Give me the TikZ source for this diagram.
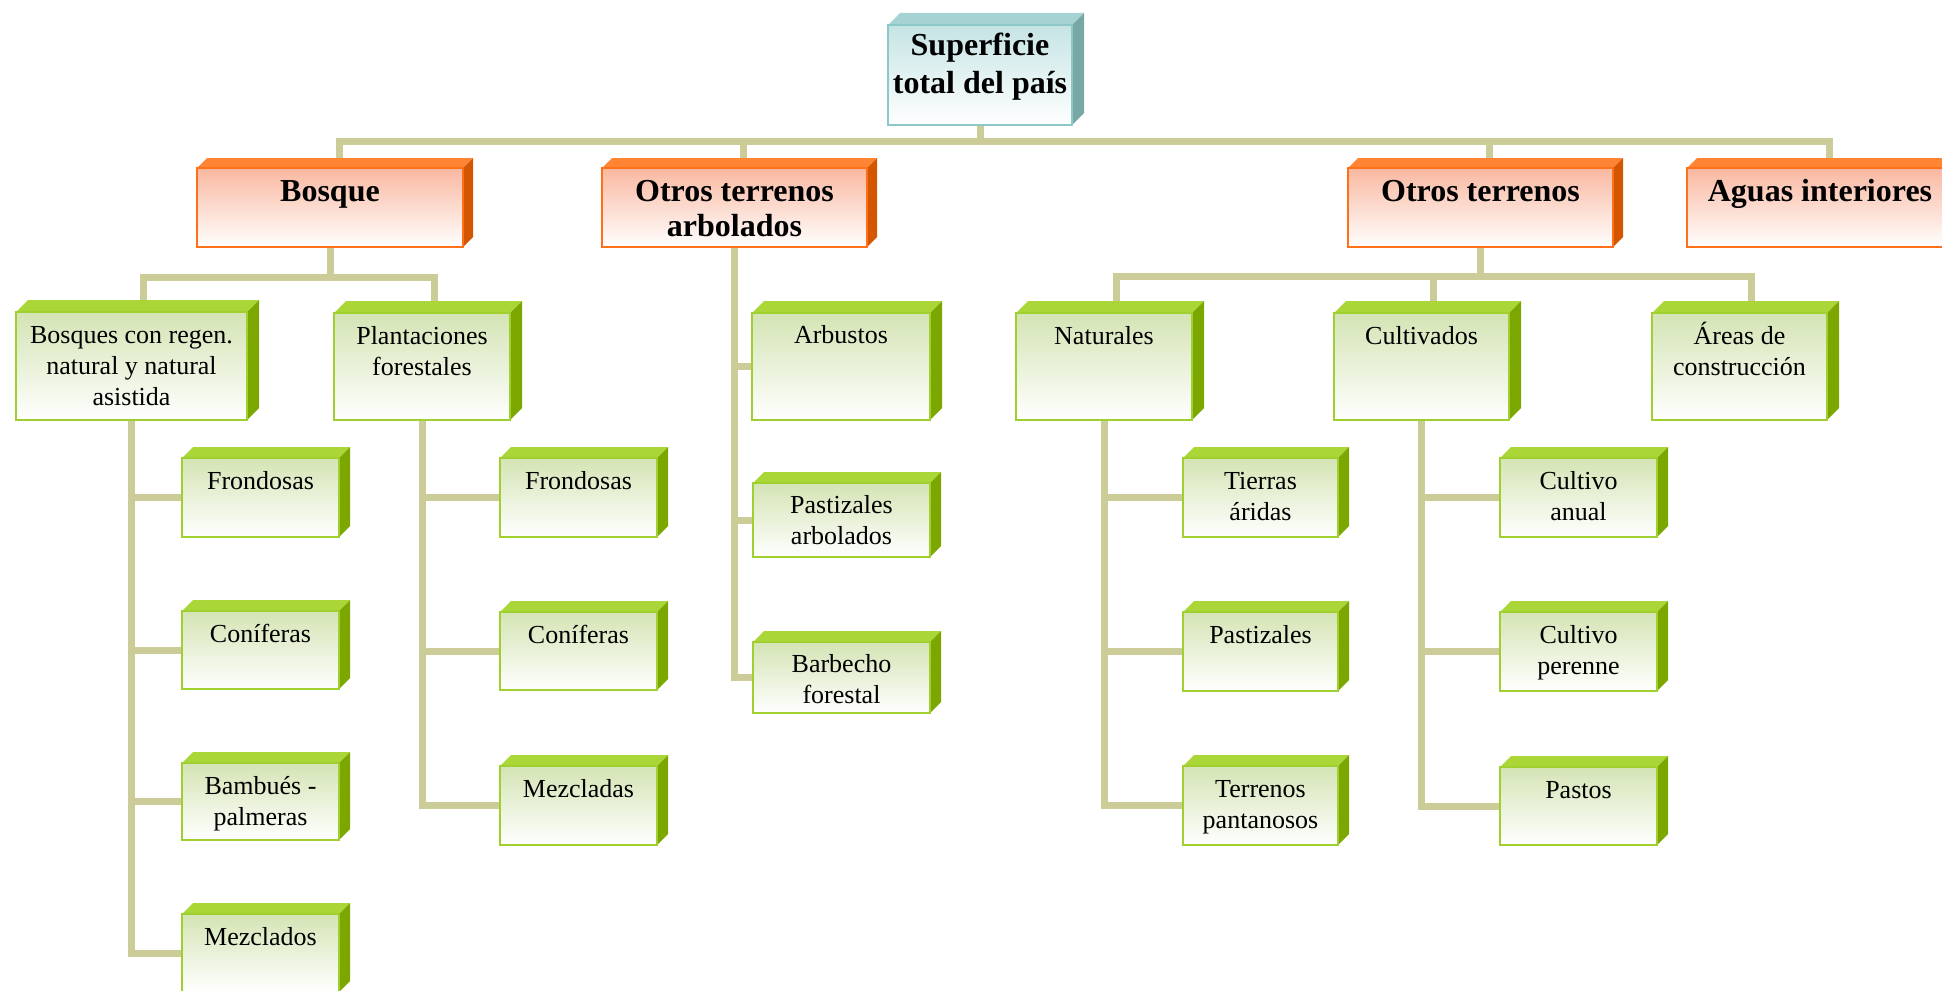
\documentclass[tikz,border=0pt]{standalone}
\usepackage{fontspec}
\setmainfont{Liberation Serif}
\pgfdeclarelayer{conn}
\pgfdeclarelayer{faces}
\pgfsetlayers{conn,faces,main}
\definecolor{conncol}{RGB}{204,204,153}
\definecolor{oedge}{RGB}{255,112,24}
\definecolor{otop}{RGB}{255,132,52}
\definecolor{oside}{RGB}{212,86,0}
\definecolor{ofront}{RGB}{249,184,160}
\definecolor{gedge}{RGB}{160,208,48}
\definecolor{gtop}{RGB}{170,214,56}
\definecolor{gside}{RGB}{124,166,0}
\definecolor{gfront}{RGB}{212,228,180}
\definecolor{tedge}{RGB}{140,200,200}
\definecolor{ttop}{RGB}{165,210,210}
\definecolor{tside}{RGB}{120,168,166}
\definecolor{tfront}{RGB}{198,228,228}
\newcommand\tlines[1]{\begin{tabular}[t]{@{}c@{}}#1\end{tabular}}
% #1 style, #2 depth, #3 name, #4 x1, #5 y1, #6 x2, #7 y2, #8 text, #9 first baseline offset
\newcommand\cbx[9]{%
  \pgfmathsetmacro\cbW{(#6-#4)*0.5}%
  \pgfmathsetmacro\cbH{#9*0.5}%
  \pgfmathsetmacro\cbD{(#7-#5-#9)*0.5}%
  \node[#1, minimum width=\cbW pt, text height=\cbH pt, text depth=\cbD pt, anchor=north west] (#3) at (#4,#5) {\tlines{#8}};
  \begin{pgfonlayer}{faces}
    \fill[#1top] (#3.north west) -- ++(#2,-#2) -- ([shift={(#2,-#2)}]#3.north east) -- (#3.north east) -- cycle;
    \fill[#1side] (#3.north east) -- ++(#2,-#2) -- ([shift={(#2,-#2)}]#3.south east) -- (#3.south east) -- cycle;
  \end{pgfonlayer}
}
\begin{document}
\begin{tikzpicture}[x=0.5pt,y=-0.5pt,
  boxbase/.style={inner sep=0pt, outer sep=0pt, line width=0.9pt, bottom color=white},
  tbox/.style={boxbase, draw=tedge, top color=tfront, font=\fontsize{16}{19}\selectfont\bfseries},
  tboxtop/.style={fill=ttop},
  tboxside/.style={fill=tside},
  obox/.style={boxbase, draw=oedge, top color=ofront, font=\fontsize{16}{17.5}\selectfont\bfseries},
  oboxtop/.style={fill=otop},
  oboxside/.style={fill=oside},
  gbox/.style={boxbase, draw=gedge, top color=gfront, font=\fontsize{13}{15.5}\selectfont},
  gboxtop/.style={fill=gtop},
  gboxside/.style={fill=gside},
  conn/.style={draw=conncol, line width=3.5pt, line join=miter}
]
\useasboundingbox (0,0) rectangle (1942,990);

% root and level 1
\cbx{tbox}{12}{root}{888}{25}{1072}{125}{Superficie\\total del país}{31}
\cbx{obox}{10}{bosque}{197}{168}{463}{247}{Bosque}{33}
\cbx{obox}{10}{ota}{602}{168}{867}{247}{Otros terrenos\\arbolados}{33}
\cbx{obox}{10}{ot}{1348}{168}{1613}{247}{Otros terrenos}{33}
\cbx{obox}{10}{aguas}{1687}{168}{1953}{247}{Aguas interiores}{33}

% level 2
\cbx{gbox}{12}{bcr}{16}{312}{247}{420}{Bosques con regen.\\natural y natural\\asistida}{31}
\cbx{gbox}{12}{pf}{334}{313}{510}{420}{Plantaciones\\forestales}{31}
\cbx{gbox}{12}{arb}{752}{313}{930}{420}{Arbustos}{30}
\cbx{gbox}{12}{nat}{1016}{313}{1192}{420}{Naturales}{31}
\cbx{gbox}{12}{cul}{1334}{313}{1509}{420}{Cultivados}{31}
\cbx{gbox}{12}{are}{1652}{313}{1827}{420}{Áreas de\\construcción}{31}

% level 3
\cbx{gbox}{11}{b1}{182}{458}{339}{537}{Frondosas}{31}
\cbx{gbox}{11}{b2}{182}{611}{339}{689}{Coníferas}{31}
\cbx{gbox}{11}{b3}{182}{763}{339}{840}{Bambués -\\palmeras}{31}
\cbx{gbox}{11}{b4}{182}{914}{339}{992}{Mezclados}{31}

\cbx{gbox}{11}{p1}{500}{458}{657}{537}{Frondosas}{31}
\cbx{gbox}{11}{p2}{500}{612}{657}{690}{Coníferas}{31}
\cbx{gbox}{11}{p3}{500}{766}{657}{845}{Mezcladas}{31}

\cbx{gbox}{11}{a2}{753}{483}{930}{557}{Pastizales\\arbolados}{30}
\cbx{gbox}{11}{a3}{753}{642}{930}{713}{Barbecho\\forestal}{30}

\cbx{gbox}{11}{n1}{1183}{458}{1338}{537}{Tierras\\áridas}{31}
\cbx{gbox}{11}{n2}{1183}{612}{1338}{691}{Pastizales}{31}
\cbx{gbox}{11}{n3}{1183}{766}{1338}{845}{Terrenos\\pantanosos}{31}

\cbx{gbox}{11}{c1}{1500}{458}{1657}{537}{Cultivo\\anual}{31}
\cbx{gbox}{11}{c2}{1500}{612}{1657}{691}{Cultivo\\perenne}{31}
\cbx{gbox}{11}{c3}{1500}{767}{1657}{845}{Pastos}{31}

% connectors
\begin{pgfonlayer}{conn}
  \foreach \c in {bosque,ota,ot,aguas}
    \draw[conn] (root.south) -- ++(0,16) -| ([xshift=4.5pt]\c.north);
  \foreach \c in {bcr,pf}
    \draw[conn] (bosque.south) -- ++(0,30) -| ([xshift=6pt]\c.north);
  \foreach \c in {nat,cul,are}
    \draw[conn] (ot.south) -- ++(0,29) -| ([xshift=6pt]\c.north);
  \foreach \c in {b1,b2,b3,b4}
    \draw[conn] (bcr.south) |- (\c.west);
  \foreach \c in {p1,p2,p3}
    \draw[conn] (pf.south) |- (\c.west);
  \foreach \c in {arb,a2,a3}
    \draw[conn] (ota.south) |- (\c.west);
  \foreach \c in {n1,n2,n3}
    \draw[conn] (nat.south) |- (\c.west);
  \foreach \c in {c1,c2,c3}
    \draw[conn] (cul.south) |- (\c.west);
\end{pgfonlayer}
\end{tikzpicture}
\end{document}
